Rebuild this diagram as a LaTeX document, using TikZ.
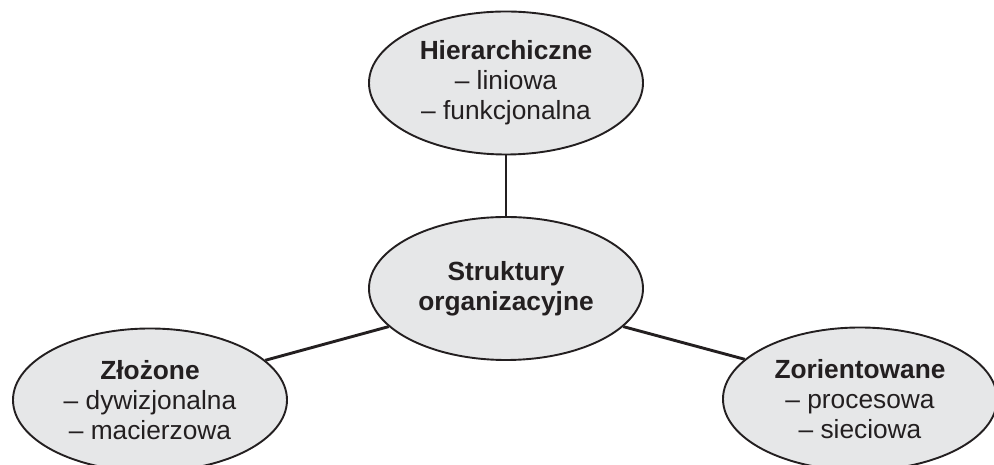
\documentclass[tikz,border=0pt]{standalone}
\usepackage{fontspec}
\setmainfont{Liberation Sans}
\usetikzlibrary{shapes.geometric}
\definecolor{ink}{HTML}{231F20}
\definecolor{bubble}{HTML}{E6E7E8}
\begin{document}
\begin{tikzpicture}[
  bubble/.style={ellipse, draw=ink, line width=1.9pt, fill=bubble,
    minimum width=274pt, minimum height=143pt, inner sep=0pt,
    align=center, text=ink, font=\fontsize{26.3}{30.2}\selectfont},
  link/.style={draw=ink, line width=2.9pt}
]
\useasboundingbox (0pt,0pt) rectangle (994pt,465pt);
\node[bubble] (t) at (506pt,382pt) {\textbf{Hierarchiczne}\\– liniowa\\– funkcjonalna};
\node[bubble] (c) at (506pt,176.5pt) {\textbf{Struktury}\\\textbf{organizacyjne}};
\node[bubble] (l) at (150pt,65pt) {\textbf{Złożone}\\– dywizjonalna\\– macierzowa};
\node[bubble] (r) at (860pt,66pt) {\textbf{Zorientowane}\\– procesowa\\– sieciowa};
\draw[link] (t.south) -- (c.north);
\draw[link] (c.198) -- (l.19);
\draw[link] (c.342) -- (r.161);
\end{tikzpicture}
\end{document}
